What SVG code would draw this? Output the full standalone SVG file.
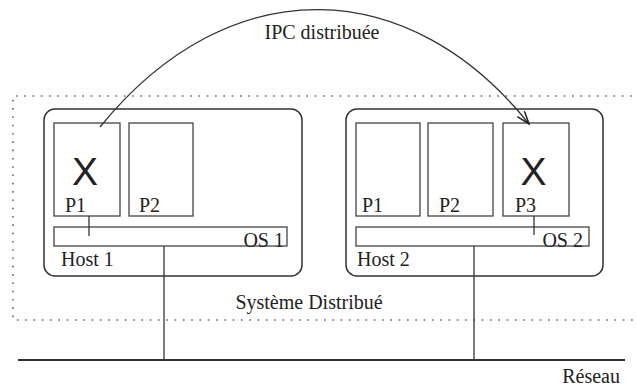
<svg xmlns="http://www.w3.org/2000/svg" width="636" height="388" viewBox="0 0 636 388">
  <style>
    .host { fill: none; stroke: #333; stroke-width: 1.5; }
    .box { fill: none; stroke: #444; stroke-width: 1.3; }
    .wire { fill: none; stroke: #333; stroke-width: 1.3; }
    .net { fill: none; stroke: #333; stroke-width: 2; }
    .zone { fill: none; stroke: #666; stroke-width: 1.6; stroke-dasharray: 1.6 6.7; }
    .lbl { font-family: "Liberation Serif", "Times New Roman", serif; font-size: 20px; fill: #222; }
    .mark { font-family: "Liberation Sans", Arial, sans-serif; font-size: 39px; fill: #222; text-anchor: middle; }
  </style>
  <defs>
    <marker id="open-arrow" markerUnits="userSpaceOnUse" markerWidth="16" markerHeight="12" refX="14" refY="5" orient="auto">
      <path d="M1,0.5 L14,5 L1,9.5" fill="none" stroke="#222" stroke-width="1.5"/>
    </marker>
  </defs>
  <rect width="636" height="388" fill="#fff"/>

  <!-- distributed system boundary (open on the right) -->
  <g id="system">
    <path class="zone" d="M640,96 H13 V320 H640"/>
    <text class="lbl" x="309" y="309" text-anchor="middle">Système Distribué</text>
  </g>

  <!-- network -->
  <g id="network">
    <line class="net" x1="18" y1="360" x2="625" y2="360"/>
    <text class="lbl" x="620" y="383" text-anchor="end">Réseau</text>
  </g>

  <g id="host1">
    <rect class="host" x="44" y="109" width="258" height="167" rx="11"/>
    <g id="host1-p1">
      <rect class="box" x="54" y="123" width="66" height="93"/>
      <text class="mark" x="85" y="185">X</text>
      <text class="lbl" x="65" y="212">P1</text>
    </g>
    <g id="host1-p2">
      <rect class="box" x="129" y="123" width="64" height="93"/>
      <text class="lbl" x="139" y="212">P2</text>
    </g>
    <g id="host1-os">
      <rect class="box" x="54" y="227" width="233" height="19"/>
      <text class="lbl" x="284" y="247" text-anchor="end">OS 1</text>
    </g>
    <text class="lbl" x="61" y="266">Host 1</text>
  </g>

  <g id="host2">
    <rect class="host" x="346" y="109" width="257" height="167" rx="11"/>
    <g id="host2-p1">
      <rect class="box" x="356" y="123" width="64" height="93"/>
      <text class="lbl" x="362" y="212">P1</text>
    </g>
    <g id="host2-p2">
      <rect class="box" x="428" y="123" width="65" height="93"/>
      <text class="lbl" x="439" y="212">P2</text>
    </g>
    <g id="host2-p3">
      <rect class="box" x="503" y="123" width="66" height="93"/>
      <text class="mark" x="533.5" y="185">X</text>
      <text class="lbl" x="515" y="212">P3</text>
    </g>
    <g id="host2-os">
      <rect class="box" x="356" y="227" width="233" height="19"/>
      <text class="lbl" x="583" y="247" text-anchor="end">OS 2</text>
    </g>
    <text class="lbl" x="357" y="266">Host 2</text>
  </g>

  <g id="connectors">
    <line class="wire" x1="89" y1="216" x2="89" y2="236"/>
    <line class="wire" x1="534" y1="216" x2="534" y2="235"/>
    <line class="wire" x1="164" y1="246" x2="164" y2="360"/>
    <line class="wire" x1="474" y1="246" x2="474" y2="360"/>
    <path class="wire" d="M100,127 C231,-34 411,-24 529,124" stroke="#222" stroke-width="1.5" marker-end="url(#open-arrow)"/>
    <text class="lbl" x="322" y="39" text-anchor="middle">IPC distribuée</text>
  </g>
</svg>
